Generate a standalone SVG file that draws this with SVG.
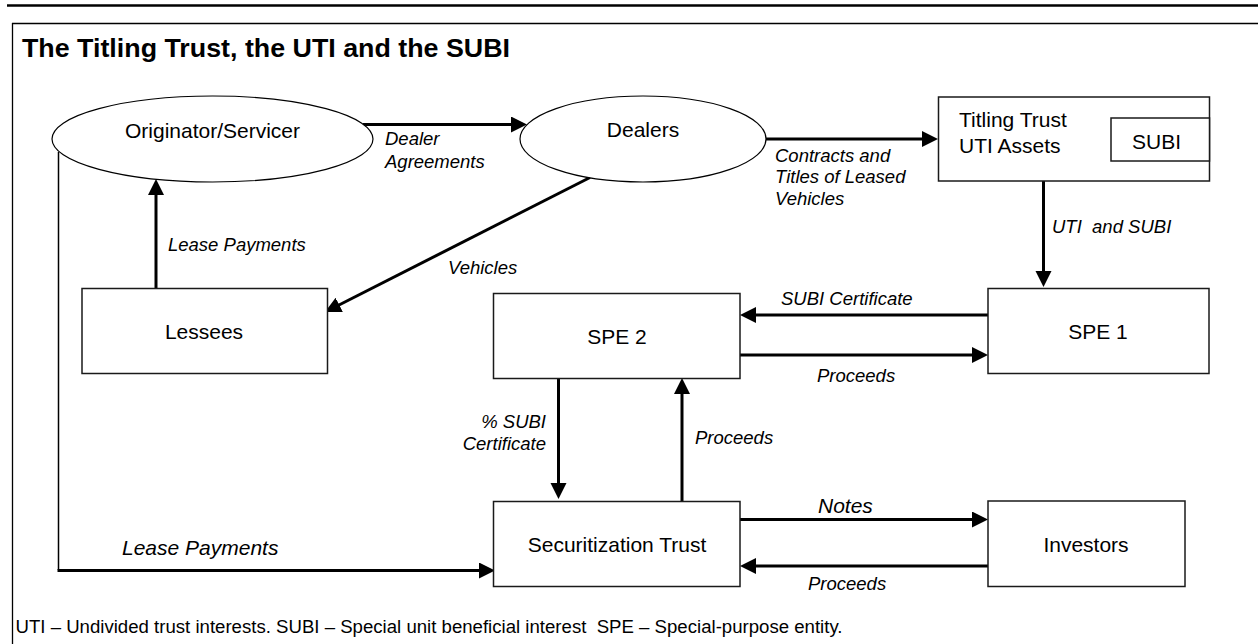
<svg xmlns="http://www.w3.org/2000/svg" width="1258" height="644" viewBox="0 0 1258 644">
  <style>
    .node { fill: #fff; stroke: #1a1a1a; stroke-width: 1.5; }
    .ell { fill: #fff; stroke: #000; stroke-width: 1.2; }
    .nt { font-family: "Liberation Sans", Arial, sans-serif; font-size: 21px; fill: #000; }
    .lb { font-family: "Liberation Sans", Arial, sans-serif; font-size: 18.5px; font-style: italic; fill: #000; white-space: pre; }
    .lbl { font-family: "Liberation Sans", Arial, sans-serif; font-size: 21px; font-style: italic; fill: #000; }
    .c { text-anchor: middle; }
    .e { text-anchor: end; }
    .arr { fill: none; stroke: #000; stroke-width: 3; }
    .thin { fill: none; stroke: #000; stroke-width: 1.5; }
  </style>
  <defs>
    <marker id="ah" markerUnits="userSpaceOnUse" markerWidth="18" markerHeight="18" refX="8" refY="8" orient="auto">
      <path d="M0,0 L16,8 L0,16 z" fill="#000"/>
    </marker>
  </defs>

  <rect width="1258" height="644" fill="#fff"/>

  <g id="frame">
    <line x1="7" y1="5.5" x2="1258" y2="5.5" stroke="#000" stroke-width="2.5"/>
    <line x1="12" y1="23.5" x2="1258" y2="23.5" stroke="#000" stroke-width="1.3"/>
    <line x1="12.5" y1="23" x2="12.5" y2="644" stroke="#000" stroke-width="1.3"/>
    <text x="22" y="57" font-family="'Liberation Sans', Arial, sans-serif" font-size="25" font-weight="bold" textLength="488" lengthAdjust="spacingAndGlyphs">The Titling Trust, the UTI and the SUBI</text>
  </g>

  <g id="connectors">
    <path class="arr" d="M363,124.5 H519" marker-end="url(#ah)"/>
    <path class="arr" d="M766,139 H930" marker-end="url(#ah)"/>
    <path class="arr" d="M1043.5,181 V279" marker-end="url(#ah)"/>
    <path class="arr" d="M156,288 V187" marker-end="url(#ah)"/>
    <path class="arr" d="M590,177.5 L332.1,308.5" marker-end="url(#ah)"/>
    <path class="arr" d="M988,315 H748" marker-end="url(#ah)"/>
    <path class="arr" d="M740,355 H980" marker-end="url(#ah)"/>
    <path class="arr" d="M558.5,378 V491" marker-end="url(#ah)"/>
    <path class="arr" d="M682,501 V386" marker-end="url(#ah)"/>
    <path class="arr" d="M740,519.5 H980" marker-end="url(#ah)"/>
    <path class="arr" d="M988,566 H748" marker-end="url(#ah)"/>
    <path class="thin" d="M58.5,152 V570"/>
    <path class="arr" d="M57.5,570.5 H487" marker-end="url(#ah)"/>

    <text class="lb" x="385" y="145">Dealer</text>
    <text class="lb" x="385" y="168">Agreements</text>
    <text class="lb" x="775" y="161.5">Contracts and</text>
    <text class="lb" x="775" y="183">Titles of Leased</text>
    <text class="lb" x="775" y="204.5">Vehicles</text>
    <text class="lb" x="1052" y="233">UTI  and SUBI</text>
    <text class="lb" x="168" y="251">Lease Payments</text>
    <text class="lb" x="448" y="274">Vehicles</text>
    <text class="lb" x="781" y="305">SUBI Certificate</text>
    <text class="lb" x="817" y="382">Proceeds</text>
    <text class="lb e" x="546" y="428">% SUBI</text>
    <text class="lb e" x="546" y="450">Certificate</text>
    <text class="lb" x="695" y="444">Proceeds</text>
    <text class="lbl" x="818" y="513">Notes</text>
    <text class="lb" x="808" y="590">Proceeds</text>
    <text class="lbl" x="122" y="555">Lease Payments</text>
  </g>

  <g id="originator">
    <ellipse class="ell" cx="212.5" cy="139" rx="160.5" ry="43"/>
    <text class="nt c" x="212.5" y="137.5">Originator/Servicer</text>
  </g>
  <g id="dealers">
    <ellipse class="ell" cx="643" cy="139" rx="123" ry="43"/>
    <text class="nt c" x="643" y="136.5">Dealers</text>
  </g>
  <g id="titling-trust">
    <rect class="node" x="938.5" y="97" width="271" height="84"/>
    <text class="nt" x="959" y="127">Titling Trust</text>
    <text class="nt" x="959" y="152.5">UTI Assets</text>
    <g id="subi">
      <rect class="node" x="1111" y="118" width="98.5" height="43"/>
      <text class="nt" x="1132" y="149">SUBI</text>
    </g>
  </g>
  <g id="spe1">
    <rect class="node" x="988" y="288.5" width="221" height="85"/>
    <text class="nt c" x="1098" y="339">SPE 1</text>
  </g>
  <g id="lessees">
    <rect class="node" x="82" y="288.5" width="245.5" height="85"/>
    <text class="nt c" x="204" y="339">Lessees</text>
  </g>
  <g id="spe2">
    <rect class="node" x="493.5" y="293.5" width="246.5" height="85"/>
    <text class="nt c" x="617" y="344">SPE 2</text>
  </g>
  <g id="securitization-trust">
    <rect class="node" x="493.5" y="501.5" width="246.5" height="85"/>
    <text class="nt c" x="617" y="551.5">Securitization Trust</text>
  </g>
  <g id="investors">
    <rect class="node" x="988" y="501" width="197" height="85.5"/>
    <text class="nt c" x="1086" y="551.5">Investors</text>
  </g>

  <g id="footnote">
    <text x="15.5" y="632.5" style="white-space: pre" font-family="'Liberation Sans', Arial, sans-serif" font-size="17.5" textLength="827" lengthAdjust="spacingAndGlyphs">UTI – Undivided trust interests. SUBI – Special unit beneficial interest  SPE – Special-purpose entity.</text>
  </g>
</svg>
